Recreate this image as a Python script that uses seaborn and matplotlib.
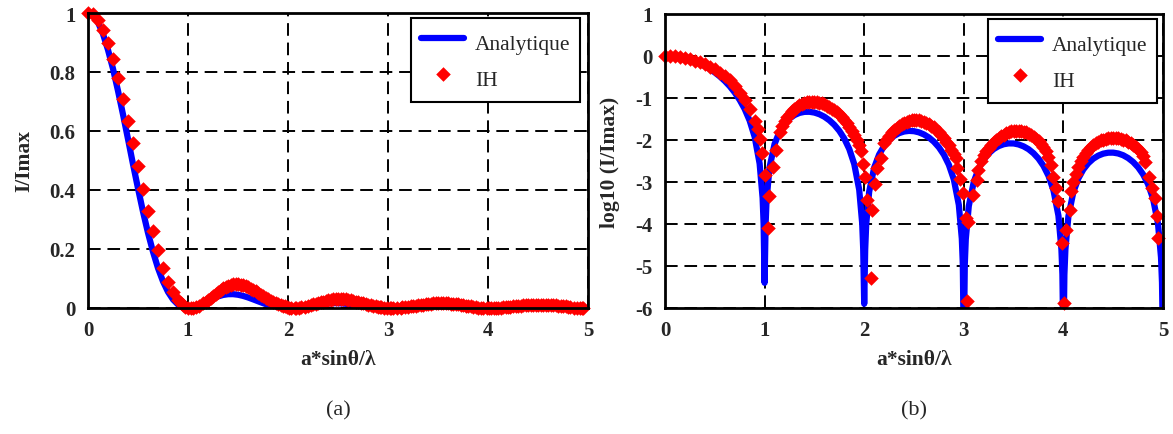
import numpy as np
import pandas as pd
import seaborn as sns
import matplotlib.pyplot as plt
from matplotlib.ticker import FuncFormatter

###### data (log10(I/Imax)) ######

x_analytic = [
    0.00, 0.05, 0.10, 0.15, 0.20, 0.25, 0.30, 0.35, 0.40, 0.45,
    0.50, 0.55, 0.60, 0.65, 0.70, 0.75, 0.80, 0.85, 0.90, 0.95,
    0.98, 0.99, 1.00, 1.01, 1.02, 1.05,
    1.10, 1.15, 1.20, 1.25, 1.30, 1.35, 1.40, 1.45, 1.50, 1.55,
    1.60, 1.65, 1.70, 1.75, 1.80, 1.85, 1.90, 1.95,
    1.98, 1.99, 2.00, 2.01, 2.02, 2.05,
    2.10, 2.15, 2.20, 2.25, 2.30, 2.35, 2.40, 2.45, 2.50, 2.55,
    2.60, 2.65, 2.70, 2.75, 2.80, 2.85, 2.90, 2.95,
    2.98, 2.99, 3.00, 3.01, 3.02, 3.05,
    3.10, 3.15, 3.20, 3.25, 3.30, 3.35, 3.40, 3.45, 3.50, 3.55,
    3.60, 3.65, 3.70, 3.75, 3.80, 3.85, 3.90, 3.95,
    3.98, 3.99, 4.00, 4.01, 4.02, 4.05,
    4.10, 4.15, 4.20, 4.25, 4.30, 4.35, 4.40, 4.45, 4.50, 4.55,
    4.60, 4.65, 4.70, 4.75, 4.80, 4.85, 4.90, 4.95,
    4.98, 4.99, 5.00,
]
log_analytic = [
    0.000, -0.004, -0.014, -0.032, -0.058, -0.091, -0.133, -0.183, -0.242, -0.312,
    -0.392, -0.486, -0.594, -0.720, -0.869, -1.046, -1.262, -1.539, -1.923, -2.561,
    -3.381, -3.991, -5.400, -4.009, -3.416, -2.648,
    -2.097, -1.802, -1.614, -1.489, -1.406, -1.355, -1.330, -1.328, -1.347, -1.386,
    -1.446, -1.530, -1.639, -1.781, -1.966, -2.215, -2.572, -3.186,
    -3.992, -4.598, -5.900, -4.607, -4.009, -3.229,
    -2.659, -2.345, -2.141, -2.000, -1.902, -1.837, -1.798, -1.783, -1.790, -1.818,
    -1.868, -1.941, -2.041, -2.174, -2.350, -2.590, -2.939, -3.545,
    -4.347, -4.952, -7.000, -4.957, -4.359, -3.574,
    -2.997, -2.677, -2.466, -2.319, -2.215, -2.145, -2.101, -2.081, -2.082, -2.106,
    -2.151, -2.219, -2.315, -2.443, -2.615, -2.851, -3.196, -3.799,
    -4.598, -5.202, -7.000, -5.206, -4.607, -3.821,
    -3.240, -2.916, -2.702, -2.552, -2.445, -2.372, -2.325, -2.302, -2.301, -2.321,
    -2.363, -2.430, -2.523, -2.649, -2.818, -3.052, -3.395, -3.995,
    -4.793, -5.396, -7.000,
]

x_ih = [
    # main lobe
    0.00, 0.05, 0.10, 0.15, 0.20, 0.25, 0.30, 0.35, 0.40, 0.45,
    0.50, 0.55, 0.60, 0.65, 0.70, 0.75, 0.80, 0.85, 0.90,
    0.930, 0.954, 0.974, 1.000, 1.034, 1.047, 1.080, 1.114,
    # lobe 1
    1.150, 1.175, 1.200, 1.225, 1.250, 1.275, 1.300, 1.325, 1.350, 1.375,
    1.400, 1.425, 1.450, 1.475, 1.500, 1.525, 1.550, 1.575, 1.600, 1.625,
    1.650, 1.675, 1.700, 1.725, 1.750, 1.775, 1.800, 1.825, 1.850, 1.875,
    1.900, 1.925, 1.945,
    1.966, 1.992, 2.006, 2.030, 2.066, 2.080, 2.106, 2.130, 2.166,
    # lobe 2
    2.200, 2.225, 2.250, 2.275, 2.300, 2.325, 2.350, 2.375, 2.400, 2.425,
    2.450, 2.475, 2.500, 2.525, 2.550, 2.575, 2.600, 2.625, 2.650, 2.675,
    2.700, 2.725, 2.750, 2.775, 2.800, 2.825, 2.850, 2.875, 2.898,
    2.918, 2.934, 2.961, 2.991, 3.020, 3.034, 3.045, 3.094, 3.128, 3.141,
    # lobe 3
    3.170, 3.200, 3.225, 3.250, 3.275, 3.300, 3.325, 3.350, 3.375, 3.400,
    3.425, 3.450, 3.475, 3.500, 3.525, 3.550, 3.575, 3.600, 3.625, 3.650,
    3.675, 3.700, 3.725, 3.750, 3.775, 3.800, 3.825, 3.850, 3.875,
    3.900, 3.930, 3.950, 3.986, 4.010, 4.026, 4.063, 4.080, 4.100,
    # lobe 4
    4.130, 4.150, 4.175, 4.200, 4.225, 4.250, 4.275, 4.300, 4.325, 4.350,
    4.375, 4.400, 4.425, 4.450, 4.475, 4.500, 4.525, 4.550, 4.575, 4.600,
    4.625, 4.650, 4.675, 4.700, 4.725, 4.750, 4.775, 4.800,
    4.820, 4.855, 4.888, 4.920, 4.937, 4.947,
]
log_ih = [
    0.000, -0.002, -0.010, -0.025, -0.046, -0.073, -0.108, -0.149, -0.197, -0.252,
    -0.319, -0.393, -0.481, -0.582, -0.710, -0.870, -1.056, -1.260, -1.550,
    -1.74, -1.98, -2.30, -2.84, -4.10, -3.33, -2.64, -2.23,
    -1.80, -1.66, -1.55, -1.46, -1.38, -1.32, -1.26, -1.21, -1.17, -1.14,
    -1.12, -1.10, -1.09, -1.085, -1.09, -1.10, -1.11, -1.13, -1.15, -1.18,
    -1.21, -1.25, -1.29, -1.34, -1.39, -1.45, -1.52, -1.60, -1.69, -1.78,
    -1.88, -1.99, -2.12,
    -2.27, -2.56, -2.87, -3.44, -5.29, -3.66, -3.04, -2.67, -2.43,
    -2.08, -1.98, -1.90, -1.82, -1.76, -1.71, -1.66, -1.62, -1.59, -1.56,
    -1.54, -1.53, -1.52, -1.52, -1.53, -1.54, -1.56, -1.59, -1.62, -1.66,
    -1.70, -1.75, -1.81, -1.88, -1.95, -2.04, -2.13, -2.23, -2.34,
    -2.43, -2.67, -2.93, -3.26, -3.85, -5.84, -3.95, -3.30, -2.95, -2.71,
    -2.50, -2.36, -2.26, -2.18, -2.11, -2.05, -2.00, -1.95, -1.91, -1.87,
    -1.84, -1.81, -1.79, -1.78, -1.775, -1.78, -1.79, -1.80, -1.82, -1.85,
    -1.88, -1.92, -1.97, -2.03, -2.10, -2.17, -2.27, -2.40, -2.60,
    -2.87, -3.14, -3.46, -4.45, -5.88, -4.15, -3.66, -3.22, -3.00,
    -2.80, -2.65, -2.51, -2.40, -2.31, -2.24, -2.17, -2.12, -2.08, -2.04,
    -2.01, -1.99, -1.97, -1.96, -1.95, -1.95, -1.955, -1.96, -1.97, -1.99,
    -2.01, -2.04, -2.07, -2.11, -2.16, -2.22, -2.29, -2.38,
    -2.52, -2.87, -3.15, -3.38, -3.82, -4.33,
]

ana = pd.DataFrame({"x": x_analytic, "log": log_analytic})
ana["lin"] = 10 ** ana["log"]
ih = pd.DataFrame({"x": x_ih, "log": log_ih})
ih["lin"] = 10 ** ih["log"]

###### style ######
sns.set_style("white")
plt.rcParams["font.family"] = ["Liberation Serif", "DejaVu Serif"]
plt.rcParams["axes.unicode_minus"] = False

fig = plt.figure(figsize=(11.73, 4.35), dpi=100)
W, H = 1173, 435
ax1 = fig.add_axes([88 / W, 1 - 309 / H, 500 / W, 295 / H])
ax2 = fig.add_axes([665 / W, 1 - 309 / H, 498 / W, 294 / H])


def draw(ax, col, ylim, yticks, ylabel, tag, leg_x):
    sns.lineplot(data=ana, x="x", y=col, ax=ax, color="#0000ff", lw=4.5,
                 estimator=None, sort=False, label="Analytique", zorder=3)
    sns.scatterplot(data=ih, x="x", y=col, ax=ax, color="#ff0000", marker="D",
                    s=55, linewidth=0, label="IH", zorder=4, clip_on=False)
    ax.set_xlim(0, 5)
    ax.set_ylim(*ylim)
    ax.set_xticks([0, 1, 2, 3, 4, 5])
    ax.set_yticks(yticks)
    ax.yaxis.set_major_formatter(FuncFormatter(lambda v, p: "{:g}".format(v)))
    ax.grid(True, color="black", lw=1.4, linestyle=(0, (6.5, 3.5)))
    for s in ax.spines.values():
        s.set_color("black")
        s.set_linewidth(2.0)
        s.set_zorder(5)
    ax.tick_params(length=0, pad=9, labelsize=15)
    for lab in ax.get_xticklabels() + ax.get_yticklabels():
        lab.set_fontweight("bold")
    ax.set_xlabel("a*sinθ/λ", fontsize=15.5, fontweight="bold", labelpad=6)
    ax.set_ylabel(ylabel, fontsize=15.5, fontweight="bold", labelpad=11)
    leg = ax.legend(loc="upper right", bbox_to_anchor=(leg_x, 0.983),
                    borderaxespad=0, fontsize=15.5, frameon=True, fancybox=False,
                    framealpha=1, edgecolor="black", handlelength=2.0,
                    handleheight=1.7, handletextpad=0.5, labelspacing=0.3,
                    borderpad=0.45)
    leg.get_frame().set_linewidth(1.5)
    pos = ax.get_position()
    fig.text((pos.x0 + pos.x1) / 2, 1 - 411 / H, tag, ha="center", va="center",
             fontsize=16)


draw(ax1, "lin", (0, 1), [0, 0.2, 0.4, 0.6, 0.8, 1], "I/Imax", "(a)", 0.984)
draw(ax2, "log", (-6, 1), [-6, -5, -4, -3, -2, -1, 0, 1], "log10 (I/Imax)",
     "(b)", 0.988)

fig.savefig("out.png", dpi=100)
